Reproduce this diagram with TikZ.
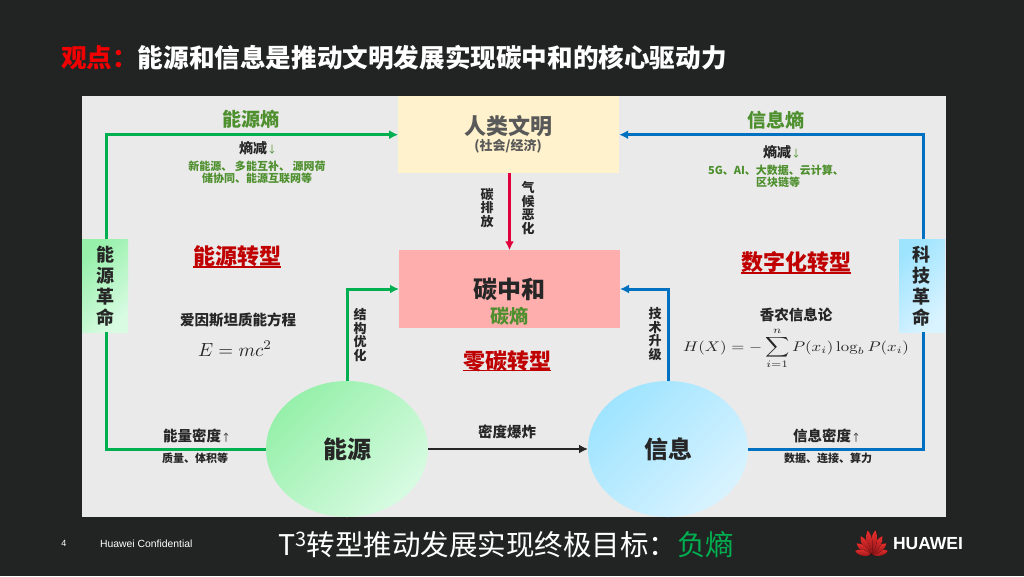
\documentclass[tikz,border=0pt]{standalone}
\usepackage[no-math]{fontspec}
\usepackage{amsmath}
\setmainfont{Noto Sans CJK SC}
\newfontfamily\latinsans{Liberation Sans}
\usetikzlibrary{arrows.meta,shapes.geometric,calc}
\definecolor{pagebg}{HTML}{222424}
\definecolor{panel}{HTML}{EAEAEA}
\definecolor{civfill}{HTML}{FFF2CC}
\definecolor{carbfill}{HTML}{FFAEAE}
\definecolor{gline}{HTML}{00B050}
\definecolor{bline}{HTML}{0070C0}
\definecolor{rline}{HTML}{E0003C}
\definecolor{entgreen}{HTML}{4E8F2E}
\definecolor{darkred}{HTML}{C00000}
\definecolor{ink}{HTML}{262626}
\definecolor{gray1}{HTML}{595959}
\definecolor{ga}{HTML}{96F0AA}
\definecolor{gb}{HTML}{D8FBE2}
\definecolor{ba}{HTML}{9FE4FF}
\definecolor{bb}{HTML}{D9F3FF}
\definecolor{logotop}{HTML}{E8302E}
\definecolor{logobot}{HTML}{8E1418}
\newcommand{\fsz}[1]{\fontsize{#1}{#1}\selectfont}
\tikzset{
  x=1pt,y=-1pt,
  txt/.style={inner sep=0pt,outer sep=0pt,align=center,text=ink},
  conn/.style={line width=3pt,-{Latex[length=9pt,width=9pt]}},
  plain/.style={line width=3pt},
  gcirc/.style={ellipse,minimum width=162pt,minimum height=136pt,inner sep=0pt,outer sep=0pt,left color=ga,right color=gb,shading angle=45},
  bcirc/.style={ellipse,minimum width=160pt,minimum height=136pt,inner sep=0pt,outer sep=0pt,left color=ba,right color=bb,shading angle=45},
  sidebox/.style={minimum width=46pt,minimum height=93pt,inner sep=0pt,outer sep=0pt},
  bigbox/.style={minimum width=221pt,minimum height=77.5pt,inner sep=0pt,outer sep=0pt},
  ttl/.style={txt,font=\fsz{19}\bfseries,text=entgreen},
  head/.style={txt,font=\fsz{22}\bfseries,text=darkred},
  sub/.style={txt,font=\fsz{11}\bfseries,text=entgreen},
  small/.style={txt,font=\fsz{11}\bfseries},
  mid/.style={txt,font=\fsz{14.5}\bfseries},
  vert/.style={txt,font=\fontsize{13}{13.4}\selectfont\bfseries},
  side/.style={txt,font=\fontsize{18}{21}\selectfont\bfseries},
}
\begin{document}
\begin{tikzpicture}
\path[use as bounding box,fill=pagebg] (0,0) rectangle (1024,576);
\fill[panel] (82,96) rectangle (946,517);
% boxes
\node[bigbox,fill=civfill] (civ) at (508.7,134.7) {};
\node[bigbox,fill=carbfill] (carb) at (509.5,289) {};
\node[sidebox,left color=ga,right color=gb,shading angle=45] (lbox) at (105,285.5) {};
\node[sidebox,left color=ba,right color=bb,shading angle=45] (rbox) at (922,285.5) {};
\node[gcirc] (energy) at (347,449) {};
\node[bcirc] (info) at (668,449) {};
\coordinate (gl) at (106.5,134.7);
\coordinate (bl) at (923,134.7);
% connectors
\draw[conn,gline] (gl |- lbox.north) -- (gl) -- (civ.west);
\draw[conn,bline] (bl |- rbox.north) -- (bl) -- (civ.east);
\draw[plain,gline] (gl |- lbox.south) |- (energy.west);
\draw[plain,bline] (bl |- rbox.south) |- (info.east);
\draw[conn,gline] (energy.north) |- (carb.west);
\draw[conn,bline] (info.north) |- (carb.east);
\draw[conn,rline] (carb.center |- civ.south) -- (carb.north);
\draw[line width=2.6pt,ink,-{Latex[length=9pt,width=9pt]}] (energy.east) -- (info.west);
% title
\node[txt,anchor=west,font=\fsz{25.6}\bfseries,text=white] (title) at (61,57.5) {\textcolor[HTML]{F00000}{观点：}能源和信息是推动文明发展实现碳中和的核心驱动力};
% box text
\node[txt,font=\fsz{22}\bfseries,text=gray1] (civa) at (508,126) {人类文明};
\node[txt,font=\fsz{13}\bfseries,text=gray1] (civb) at (508,146.5) {(社会/经济)};
\node[txt,font=\fsz{24}\bfseries] (carba) at (509,289) {碳中和};
\node[txt,font=\fsz{19}\bfseries,text=entgreen] (carbb) at (509,316) {碳熵};
\node[side] (lside) at (105,286) {能\\源\\革\\命};
\node[side] (rside) at (921,286) {科\\技\\革\\命};
\node[txt,font=\fsz{24}\bfseries] (ena) at (347,449) {能源};
\node[txt,font=\fsz{24}\bfseries] (ina) at (668,449) {信息};
% top labels
\node[ttl] (ent1) at (251,119) {能源熵};
\node[ttl] (ent2) at (776,120) {信息熵};
\node[txt,font=\fsz{14}\bfseries] (dec1) at (258,148) {熵减\textcolor{entgreen}{\normalfont\fsz{10}↓}};
\node[txt,font=\fsz{14}\bfseries] (dec2) at (782,152) {熵减\textcolor{entgreen}{\normalfont\fsz{10}↓}};
\node[sub] (s1) at (257,166) {新能源、 多能互补、 源网荷};
\node[sub] (s2) at (257,178) {储协同、能源互联网等};
\node[sub] (s3) at (776,170) {5G、AI、大数据、云计算、};
\node[sub] (s4) at (778,182) {区块链等};
% headings
\node[head] (h1) at (237,256) {能源转型};
\draw[darkred,line width=1.2pt] ($(h1.west)+(0,11)$) -- ($(h1.east)+(0,11)$);
\node[head] (h2) at (796,262) {数字化转型};
\draw[darkred,line width=1.2pt] ($(h2.west)+(0,11)$) -- ($(h2.east)+(0,11)$);
\node[head] (h3) at (507,361) {零碳转型};
\draw[darkred,line width=1.2pt] ($(h3.west)+(0,9.5)$) -- ($(h3.east)+(0,9.5)$);
% vertical labels
\node[vert] (v1) at (487,208) {碳\\排\\放};
\node[vert] (v2) at (528,208) {气\\候\\恶\\化};
\node[vert] (v3) at (360,335) {结\\构\\优\\化};
\node[vert] (v4) at (655,334) {技\\术\\升\\级};
% formulae
\node[mid] (f1) at (238,320) {爱因斯坦质能方程};
\node[mid] (f2) at (796,315) {香农信息论};
\node[txt,text=ink] (e1) at (235,349) {\scalebox{1.9}{$E=mc^2$}};
\node[txt,text=ink] (e2) at (796,348.5) {\scalebox{1.68}[1.4]{$\displaystyle H(X)=-\sum_{i=1}^{n}P(x_i)\log_b P(x_i)$}};
% density labels
\node[mid] (d1) at (197,436) {能量密度\textnormal{\fsz{10}↑}};
\node[mid] (d2) at (827,436) {信息密度\textnormal{\fsz{10}↑}};
\node[small] (d3) at (195,458) {质量、体积等};
\node[small] (d4) at (828,458) {数据、连接、算力};
\node[mid] (d5) at (507,432) {密度爆炸};
% footer
\node[txt,anchor=center,font=\latinsans\fsz{9},text=white] (pg) at (64,543) {4};
\node[txt,anchor=west,font=\latinsans\fsz{10.4},text=white] (conf) at (100,543.5) {Huawei Confidential};
\node[txt,anchor=west,font=\fsz{28.5},text=white] (goal) at (278,545) {T\textsuperscript{3}转型推动发展实现终极目标：\textcolor{gline}{负熵}};
\foreach \a/\l in {-76/17,-52/19,-30/22,-9/25,9/25,30/22,52/19,76/17}{
  \fill[shift={(871.5,555)},rotate=\a,top color=logotop,bottom color=logobot]
    (0,-1) .. controls (-4.5,-0.4*\l) and (-3.5,-0.8*\l) .. (0,-\l) .. controls (3.5,-0.8*\l) and (4.5,-0.4*\l) .. (0,-1) -- cycle;
}
\node[txt,anchor=west,font=\latinsans\fsz{17.5}\bfseries,text=white] (logo) at (893,543.5) {HUAWEI};
\end{tikzpicture}
\end{document}
